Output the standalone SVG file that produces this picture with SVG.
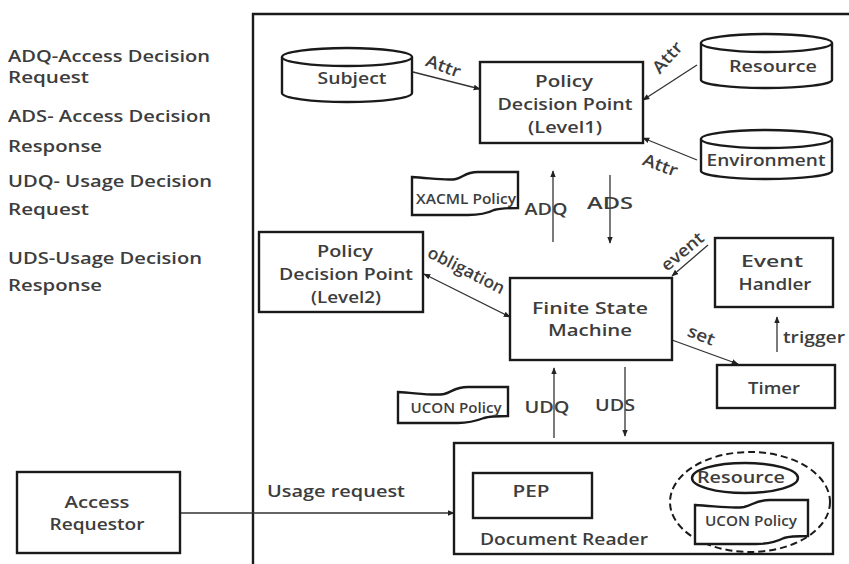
<svg xmlns="http://www.w3.org/2000/svg" width="849" height="564" viewBox="0 0 849 564">
  <style>
    .bx { fill: #fff; stroke: #1a1a1a; stroke-width: 2.4; }
    .frame { fill: none; stroke: #1a1a1a; stroke-width: 2.4; }
    .ln { fill: none; stroke: #333; stroke-width: 1.3; }
    .dash { fill: none; stroke: #1a1a1a; stroke-width: 2; stroke-dasharray: 7 4; }
    text { font-family: "Open Sans", "Liberation Sans", sans-serif; font-size: 17px; font-weight: 600; fill: #3d3d3d; }
    .c { text-anchor: middle; }
    .sm { font-size: 14px; }
    .lg { font-size: 16px; }
  </style>
  <defs>
    <marker id="arr" viewBox="0 0 10 10" refX="9" refY="5" markerWidth="7" markerHeight="7" markerUnits="userSpaceOnUse" orient="auto-start-reverse">
      <path d="M0,1 L10,5 L0,9 Z" fill="#222"/>
    </marker>
  </defs>
  <rect width="849" height="564" fill="#fff"/>

  <!-- legend -->
  <g id="legend">
    <text class="lg" x="8" y="62" textLength="202" lengthAdjust="spacingAndGlyphs">ADQ-Access Decision</text>
    <text class="lg" x="8" y="83" textLength="81" lengthAdjust="spacingAndGlyphs">Request</text>
    <text class="lg" x="8" y="122" textLength="203" lengthAdjust="spacingAndGlyphs">ADS- Access Decision</text>
    <text class="lg" x="8" y="152" textLength="94" lengthAdjust="spacingAndGlyphs">Response</text>
    <text class="lg" x="8" y="187" textLength="204" lengthAdjust="spacingAndGlyphs">UDQ- Usage Decision</text>
    <text class="lg" x="8" y="215" textLength="81" lengthAdjust="spacingAndGlyphs">Request</text>
    <text class="lg" x="8" y="264" textLength="194" lengthAdjust="spacingAndGlyphs">UDS-Usage Decision</text>
    <text class="lg" x="8" y="291" textLength="94" lengthAdjust="spacingAndGlyphs">Response</text>
  </g>

  <!-- system boundary -->
  <path class="frame" d="M253,564 V14 H849"/>

  <!-- connectors -->
  <g id="connectors">
    <line class="ln" x1="413" y1="72" x2="480" y2="89" marker-end="url(#arr)"/>
    <line class="ln" x1="697" y1="65" x2="643" y2="100" marker-end="url(#arr)"/>
    <line class="ln" x1="697" y1="160" x2="643" y2="138" marker-end="url(#arr)"/>
    <line class="ln" x1="553" y1="242" x2="553" y2="171" marker-end="url(#arr)"/>
    <line class="ln" x1="610" y1="175" x2="610" y2="243" marker-end="url(#arr)"/>
    <line class="ln" x1="424" y1="274" x2="510" y2="317" marker-start="url(#arr)" marker-end="url(#arr)"/>
    <line class="ln" x1="708" y1="245" x2="672" y2="276" marker-end="url(#arr)"/>
    <line class="ln" x1="672" y1="340" x2="738" y2="364" marker-end="url(#arr)"/>
    <line class="ln" x1="777" y1="352" x2="777" y2="317" marker-end="url(#arr)"/>
    <line class="ln" x1="554" y1="438" x2="554" y2="368" marker-end="url(#arr)"/>
    <line class="ln" x1="625" y1="367" x2="625" y2="436" marker-end="url(#arr)"/>
    <line class="ln" x1="592" y1="496" x2="670" y2="496" marker-end="url(#arr)"/>
    <line class="ln" x1="180" y1="513" x2="454" y2="513" marker-end="url(#arr)"/>

    <text transform="translate(443,67) rotate(20)" class="c" y="5" textLength="36" lengthAdjust="spacingAndGlyphs">Attr</text>
    <text transform="translate(668,58) rotate(-48)" class="c" y="5" textLength="36" lengthAdjust="spacingAndGlyphs">Attr</text>
    <text transform="translate(660,166) rotate(20)" class="c" y="5" textLength="36" lengthAdjust="spacingAndGlyphs">Attr</text>
    <text x="546" y="215" class="c" textLength="43" lengthAdjust="spacingAndGlyphs">ADQ</text>
    <text x="610" y="209" class="c" textLength="46" lengthAdjust="spacingAndGlyphs">ADS</text>
    <text transform="translate(466,271) rotate(27)" class="c" y="5" textLength="84" lengthAdjust="spacingAndGlyphs">obligation</text>
    <text transform="translate(683,252) rotate(-40)" class="c" y="5" textLength="50" lengthAdjust="spacingAndGlyphs">event</text>
    <text transform="translate(701,336) rotate(22)" class="c" y="5" textLength="28" lengthAdjust="spacingAndGlyphs">set</text>
    <text x="814" y="343" class="c" textLength="62" lengthAdjust="spacingAndGlyphs">trigger</text>
    <text x="547" y="413" class="c" textLength="45" lengthAdjust="spacingAndGlyphs">UDQ</text>
    <text x="615" y="411" class="c" textLength="40" lengthAdjust="spacingAndGlyphs">UDS</text>
    <text x="336" y="497" class="c" textLength="138" lengthAdjust="spacingAndGlyphs">Usage request</text>
  </g>

  <!-- data stores -->
  <g id="subject">
    <path class="bx" d="M282,57 V93 A65,9 0 0 0 412,93 V57"/>
    <ellipse class="bx" cx="347" cy="57" rx="65" ry="9"/>
    <text x="352" y="84" class="c" textLength="69" lengthAdjust="spacingAndGlyphs">Subject</text>
  </g>
  <g id="resource-store">
    <path class="bx" d="M701,43 V80 A65.5,8 0 0 0 832,80 V43"/>
    <ellipse class="bx" cx="766.5" cy="43" rx="65.5" ry="9"/>
    <text x="773" y="72" class="c" textLength="88" lengthAdjust="spacingAndGlyphs">Resource</text>
  </g>
  <g id="environment-store">
    <path class="bx" d="M701,139 V171 A65.5,8 0 0 0 832,171 V139"/>
    <ellipse class="bx" cx="766.5" cy="139" rx="65.5" ry="9"/>
    <text x="766" y="166" class="c" textLength="119" lengthAdjust="spacingAndGlyphs">Environment</text>
  </g>

  <g id="pdp1">
    <rect class="bx" x="480" y="62" width="163" height="81"/>
    <text x="564" y="87" class="c" textLength="58" lengthAdjust="spacingAndGlyphs">Policy</text>
    <text x="565" y="110" class="c" textLength="135" lengthAdjust="spacingAndGlyphs">Decision Point</text>
    <text x="565" y="133" class="c" textLength="74" lengthAdjust="spacingAndGlyphs">(Level1)</text>
  </g>

  <!-- policy documents: flag-shaped outline with a step in the top and bottom edges -->
  <g id="xacml-policy">
    <path class="bx" d="M412,177 C430,178 448,181 456,179 C464,177 465,172 478,172 L518,172 V208 C508,208 500,208 494,210 C486,214 478,215 468,215 L412,215 Z"/>
    <text class="sm" x="466" y="204" text-anchor="middle" textLength="100" lengthAdjust="spacingAndGlyphs">XACML Policy</text>
  </g>

  <g id="pdp2">
    <rect class="bx" x="259" y="232" width="164" height="80"/>
    <text x="345" y="257" class="c" textLength="56" lengthAdjust="spacingAndGlyphs">Policy</text>
    <text x="346" y="280" class="c" textLength="134" lengthAdjust="spacingAndGlyphs">Decision Point</text>
    <text x="346" y="303" class="c" textLength="70" lengthAdjust="spacingAndGlyphs">(Level2)</text>
  </g>

  <g id="fsm">
    <rect class="bx" x="510" y="278" width="162" height="82"/>
    <text x="590" y="314" class="c" textLength="116" lengthAdjust="spacingAndGlyphs">Finite State</text>
    <text x="590" y="336" class="c" textLength="84" lengthAdjust="spacingAndGlyphs">Machine</text>
  </g>

  <g id="event-handler">
    <rect class="bx" x="715" y="238" width="118" height="69"/>
    <text x="772" y="267" class="c" textLength="62" lengthAdjust="spacingAndGlyphs">Event</text>
    <text x="775" y="290" class="c" textLength="73" lengthAdjust="spacingAndGlyphs">Handler</text>
  </g>

  <g id="timer">
    <rect class="bx" x="717" y="365" width="118" height="43"/>
    <text x="774" y="394" class="c" textLength="52" lengthAdjust="spacingAndGlyphs">Timer</text>
  </g>

  <g id="ucon-policy">
    <path class="bx" d="M398,392 C416,393 434,396 444,394 C452,392 455,387 468,387 L508,387 V416 C498,416 490,416 484,418 C476,421 468,423 458,423 L398,423 Z"/>
    <text class="sm" x="456" y="413" text-anchor="middle" textLength="91" lengthAdjust="spacingAndGlyphs">UCON Policy</text>
  </g>

  <g id="document-reader">
    <rect class="bx" x="454" y="443" width="379" height="111"/>
    <text x="564" y="545" class="c" textLength="168" lengthAdjust="spacingAndGlyphs">Document Reader</text>
  </g>

  <g id="pep">
    <rect class="bx" x="473" y="473" width="119" height="45"/>
    <text x="531" y="497" class="c" textLength="37" lengthAdjust="spacingAndGlyphs">PEP</text>
  </g>

  <g id="protected-content">
    <ellipse class="dash" cx="750" cy="502" rx="80" ry="50"/>
    <ellipse cx="745" cy="478" rx="53" ry="15" style="fill:none;stroke:#1a1a1a;stroke-width:2.4"/>
    <text x="741" y="483" class="c" textLength="88" lengthAdjust="spacingAndGlyphs">Resource</text>
    <path class="bx" d="M695,505 C715,506 733,509 744,507 C753,505 756,500 770,500 L808,500 V536 C798,536 790,536 784,538 C776,542 768,544 756,544 L695,544 Z"/>
    <text class="sm" x="751" y="526" text-anchor="middle" textLength="92" lengthAdjust="spacingAndGlyphs">UCON Policy</text>
  </g>

  <g id="access-requestor">
    <rect class="bx" x="17" y="472" width="163" height="81"/>
    <text x="97" y="508" class="c" textLength="65" lengthAdjust="spacingAndGlyphs">Access</text>
    <text x="97" y="530" class="c" textLength="95" lengthAdjust="spacingAndGlyphs">Requestor</text>
  </g>
</svg>
